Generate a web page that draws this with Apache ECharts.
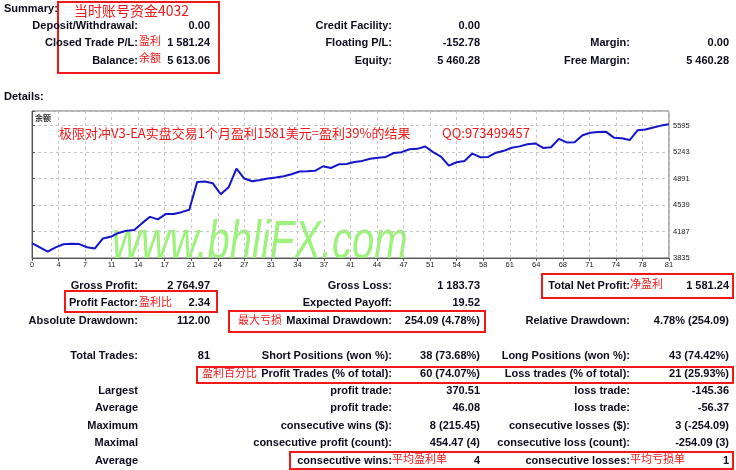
<!DOCTYPE html>
<html><head><meta charset="utf-8">
<script src="https://cdn.jsdelivr.net/npm/echarts@6/dist/echarts.min.js"></script>
<style>html,body{margin:0;padding:0;background:#fff}#c{width:736px;height:470px}</style>
</head><body><div id="c"></div>
<script>
// ---- data ----
const xTickLabels = [0,4,7,11,14,17,21,24,27,31,34,37,41,44,47,51,54,58,61,64,68,71,74,78,81];
const yTickLabels = [3835,4187,4539,4891,5243,5595];
const balance = [
  4032,3976,3920,3977,4018,4024,4020,3978,3962,4094,
  4116,4168,4197,4208,4298,4382,4348,4418,4420,4444,
  4475,4846,4852,4827,4682,4774,5022,4891,4854,4871,
  4890,4905,4921,4947,4985,4987,4994,5054,5031,5079,
  5085,5111,5125,5154,5166,5178,5230,5241,5279,5285,
  5317,5241,5182,5063,5107,5125,5222,5174,5178,5234,
  5259,5299,5318,5346,5357,5298,5307,5418,5370,5374,
  5465,5498,5509,5511,5434,5426,5402,5531,5542,5569,
  5594,5613
];
const summaryRows = [
  ['Deposit/Withdrawal:', '0.00', 'Credit Facility:', '0.00', '', ''],
  ['Closed Trade P/L:', '1 581.24', 'Floating P/L:', '-152.78', 'Margin:', '0.00'],
  ['Balance:', '5 613.06', 'Equity:', '5 460.28', 'Free Margin:', '5 460.28']
];
const detailRows = [
  ['Gross Profit:', '2 764.97', 'Gross Loss:', '1 183.73', 'Total Net Profit:', '1 581.24'],
  ['Profit Factor:', '2.34', 'Expected Payoff:', '19.52', '', ''],
  ['Absolute Drawdown:', '112.00', 'Maximal Drawdown:', '254.09 (4.78%)', 'Relative Drawdown:', '4.78% (254.09)'],
  ['Total Trades:', '81', 'Short Positions (won %):', '38 (73.68%)', 'Long Positions (won %):', '43 (74.42%)'],
  ['', '', 'Profit Trades (% of total):', '60 (74.07%)', 'Loss trades (% of total):', '21 (25.93%)'],
  ['Largest', '', 'profit trade:', '370.51', 'loss trade:', '-145.36'],
  ['Average', '', 'profit trade:', '46.08', 'loss trade:', '-56.37'],
  ['Maximum', '', 'consecutive wins ($):', '8 (215.45)', 'consecutive losses ($):', '3 (-254.09)'],
  ['Maximal', '', 'consecutive profit (count):', '454.47 (4)', 'consecutive loss (count):', '-254.09 (3)'],
  ['Average', '', 'consecutive wins:', '4', 'consecutive losses:', '1']
];
const headings = ['Summary:', 'Details:'];
const chartTitle = '极限对冲V3-EA实盘交易1个月盈利1581美元=盈利39%的结果';
const chartQQ = 'QQ:973499457';
const chartLabel = '余额';
const watermark = 'www.bhljFX.com';
const notes = ['当时账号资金4032', '盈利', '余额', '盈利比', '最大亏损', '净盈利', '盈利百分比', '平均盈利单', '平均亏损单'];

// ---- layout ----
const colRight = [138, 210, 392, 480, 630, 729];
const summaryY = [26, 43, 61];
const detailY = [286, 303, 321, 356, 374, 391, 408, 426, 443, 461];
const headingPos = [[4, 9], [4, 97]];
const notePos = [[74, 11, 14], [139, 41, 11], [139, 58, 11], [139, 302, 11], [238, 320, 11],
                 [630, 284, 11], [202, 373, 11], [392, 459, 11], [630, 459, 11]];
const boxes = [[58,2,161,71],[65,291,152,21],[229,311,256,21],[542,274,191,24],[197,367,536,16],[290,452,443,17]];

const FONT = 'bold 11px "Liberation Sans", Arial, sans-serif';
const CJK = '"Noto Sans CJK SC", sans-serif';
const INK = '#0c0c1c';
const RED = '#f01818';

const g = [];
function txt(text, x, y, align, font, fill, z) {
  g.push({type:'text', z: z || 10, style:{text, x, y, textAlign: align, textVerticalAlign:'middle', font, fill}});
}
headings.forEach((h, i) => txt(h, headingPos[i][0], headingPos[i][1], 'left', FONT, INK));
function rows(arr, ys) {
  arr.forEach((r, i) => r.forEach((c, j) => { if (c) txt(c, colRight[j], ys[i], 'right', FONT, INK); }));
}
rows(summaryRows, summaryY);
rows(detailRows, detailY);
notes.forEach((n, i) => txt(n, notePos[i][0], notePos[i][1], 'left', notePos[i][2] + 'px ' + CJK, RED));
boxes.forEach(b => g.push({type:'rect', z: 9, shape:{x:b[0], y:b[1], width:b[2], height:b[3]},
  style:{fill:'none', stroke:RED, lineWidth:2}}));
// chart texts
txt(chartTitle, 59, 133, 'left', '13px ' + CJK, RED, 12);
txt(chartQQ, 442, 133, 'left', '13px ' + CJK, RED, 12);
txt(chartLabel, 35, 118, 'left', 'bold 8px ' + CJK, '#333', 12);
g.push({type:'text', x:112, y:270, scaleY:1.35, z:1,
  style:{text: watermark, x:0, y:0, textAlign:'left', textVerticalAlign:'bottom',
         font:'italic 40px "Liberation Sans", Arial, sans-serif', fill:'#9cf27a'}});
g.push({type:'rect', z:2, shape:{x:100, y:259, width:330, height:20}, style:{fill:'#fff'}});

const chart = echarts.init(document.getElementById('c'), null, {renderer:'canvas'});
chart.setOption({
  animation: false,
  backgroundColor: '#fff',
  grid: {left:32, top:111, width:637, height:147, show:true, borderColor:'#666', borderWidth:1, backgroundColor:'transparent'},
  xAxis: {
    type:'value', min:0, max:81, interval:3.375, z:10,
    axisLine:{show:true, lineStyle:{color:'#555'}},
    axisTick:{show:true, length:3, lineStyle:{color:'#555'}},
    axisLabel:{margin:3, fontSize:7.5, color:'#222', fontFamily:'"Liberation Sans", Arial',
      formatter: v => { const k = Math.round(v / 3.375); return xTickLabels[k] !== undefined ? String(xTickLabels[k]) : ''; }},
    splitLine:{show:true, lineStyle:{color:'#c8c8c8', type:[3,3]}}
  },
  yAxis: {
    type:'value', position:'right', min:3835, max:5788, interval:352, z:10,
    axisLine:{show:true, lineStyle:{color:'#555'}},
    axisTick:{show:true, length:3, lineStyle:{color:'#555'}},
    axisLabel:{margin:4, fontSize:7.5, color:'#222', fontFamily:'"Liberation Sans", Arial',
      formatter: v => yTickLabels.indexOf(Math.round(v)) >= 0 ? String(Math.round(v)) : ''},
    splitLine:{show:true, lineStyle:{color:'#c8c8c8', type:[3,3]}}
  },
  series: [{
    type:'line', z:20, symbol:'none', data: balance.map((v, i) => [i, v]),
    lineStyle:{color:'#1414c8', width:2}
  }],
  graphic: g
});
</script></body></html>
